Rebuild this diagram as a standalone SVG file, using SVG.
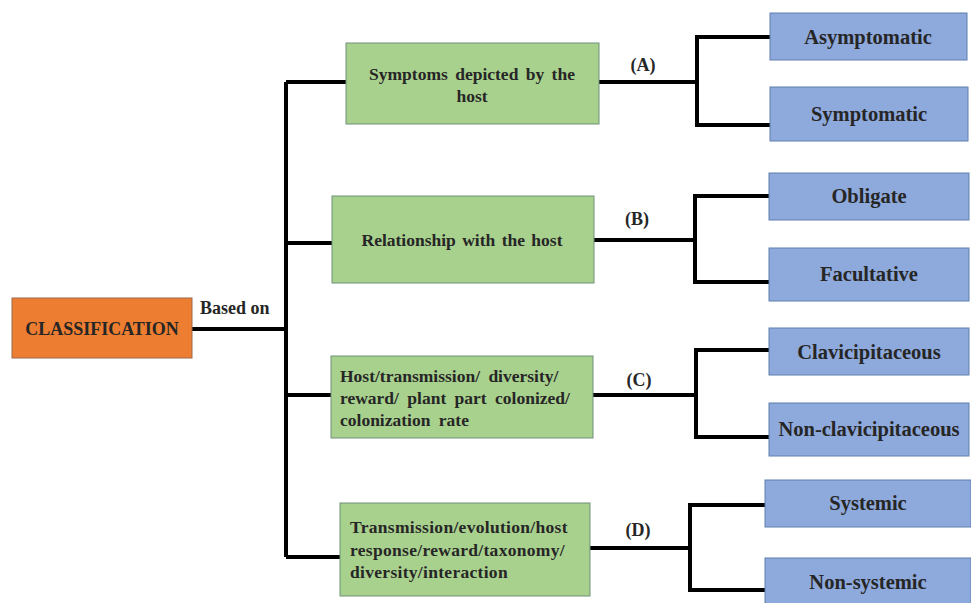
<svg xmlns="http://www.w3.org/2000/svg" width="971" height="603" viewBox="0 0 971 603">
<style>
.root{fill:#ED7D31;stroke:#9a6a4a;stroke-width:1}
.mid{fill:#A9D18E;stroke:#6f8f7a;stroke-width:1}
.leaf{fill:#8EA9DB;stroke:#5f7fae;stroke-width:1}
.c{text-anchor:middle}
.g{font-size:17.5px}
.l{font-size:20.5px}
.lab{font-size:18px}
#connectors path{fill:none;stroke:#000;stroke-width:4}
</style>
<rect width="971" height="603" fill="#fff"/>
<g id="connectors">
<path d="M192 329H286M286 82V557M286 82H346M286 243H332M286 395H331M286 557H340"/>
<path d="M599 82H697M770 37H697V125H770"/>
<path d="M594 240H695M769 196H695V282H769"/>
<path d="M593 395H696M769 350H696V437H769"/>
<path d="M590 548H690M765 505H690V590H765"/>
</g>
<g font-family="Liberation Serif, Times New Roman, serif" font-weight="bold" fill="#262626">
<text x="200" y="314" class="lab">Based on</text>
<text x="643" y="71" class="lab c">(A)</text>
<text x="637" y="225" class="lab c">(B)</text>
<text x="639" y="386" class="lab c">(C)</text>
<text x="638" y="536" class="lab c">(D)</text>
<g id="classification">
<rect class="root" x="12" y="298" width="180" height="60"/>
<text x="102" y="335" class="c" font-size="18">CLASSIFICATION</text>
</g>
<g id="symptoms">
<rect class="mid" x="346" y="43" width="253" height="81"/>
<text x="472" y="80" class="c g" word-spacing="3">Symptoms depicted by the</text>
<text x="472" y="102" class="c g">host</text>
</g>
<g id="relationship">
<rect class="mid" x="332" y="196" width="262" height="87"/>
<text x="462" y="246" class="c g" word-spacing="2">Relationship with the host</text>
</g>
<g id="host-transmission">
<rect class="mid" x="331" y="356" width="262" height="82"/>
<text x="340" y="382" class="g" word-spacing="4">Host/transmission/  diversity/</text>
<text x="340" y="404" class="g" word-spacing="4">reward/ plant part colonized/</text>
<text x="340" y="426" class="g" word-spacing="4">colonization rate</text>
</g>
<g id="transmission-evolution">
<rect class="mid" x="340" y="503" width="250" height="93"/>
<text x="350" y="533" class="g" letter-spacing="0.3">Transmission/evolution/host</text>
<text x="350" y="556" class="g" letter-spacing="0.3">response/reward/taxonomy/</text>
<text x="350" y="578" class="g" letter-spacing="0.3">diversity/interaction</text>
</g>
<g id="asymptomatic">
<rect class="leaf" x="770" y="13" width="197" height="47"/>
<text x="868" y="44" class="c l">Asymptomatic</text>
</g>
<g id="symptomatic">
<rect class="leaf" x="770" y="87" width="198" height="54"/>
<text x="869" y="121" class="c l">Symptomatic</text>
</g>
<g id="obligate">
<rect class="leaf" x="769" y="173" width="200" height="47"/>
<text x="869" y="203" class="c l">Obligate</text>
</g>
<g id="facultative">
<rect class="leaf" x="769" y="248" width="200" height="53"/>
<text x="869" y="281" class="c l">Facultative</text>
</g>
<g id="clavicipitaceous">
<rect class="leaf" x="769" y="328" width="200" height="47"/>
<text x="869" y="359" class="c l">Clavicipitaceous</text>
</g>
<g id="non-clavicipitaceous">
<rect class="leaf" x="769" y="403" width="200" height="53"/>
<text x="869" y="436" class="c l">Non-clavicipitaceous</text>
</g>
<g id="systemic">
<rect class="leaf" x="765" y="480" width="206" height="47"/>
<text x="868" y="510" class="c l">Systemic</text>
</g>
<g id="non-systemic">
<rect class="leaf" x="765" y="558" width="206" height="50"/>
<text x="868" y="589" class="c l">Non-systemic</text>
</g>
</g>
</svg>
